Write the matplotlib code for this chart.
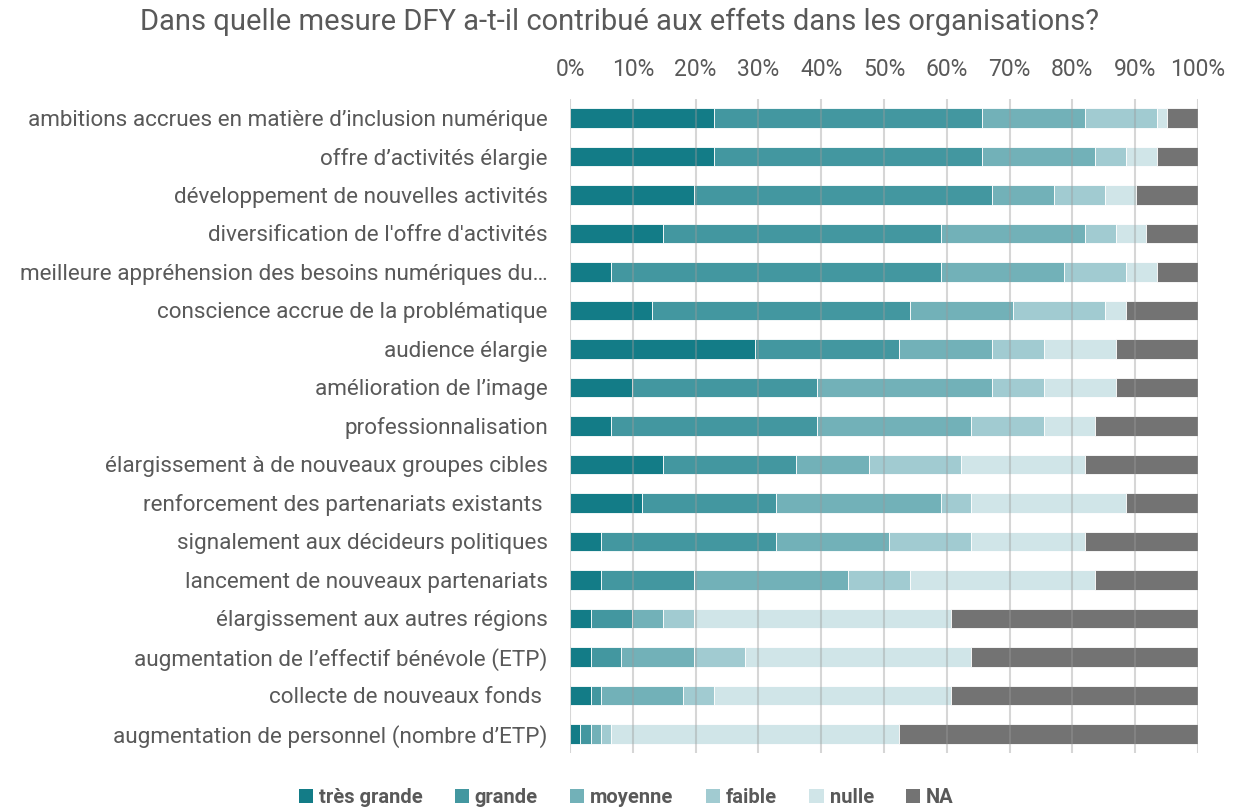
import matplotlib
matplotlib.use("Agg")
import matplotlib.pyplot as plt
from matplotlib.patches import Patch
import numpy as np

plt.rcParams["font.family"] = ["Roboto", "DejaVu Sans"]

categories = [
    "ambitions accrues en matière d’inclusion numérique",
    "offre d’activités élargie",
    "développement de nouvelles activités",
    "diversification de l'offre d'activités",
    "meilleure appréhension des besoins numériques du…",
    "conscience accrue de la problématique",
    "audience élargie",
    "amélioration de l’image",
    "professionnalisation",
    "élargissement à de nouveaux groupes cibles",
    "renforcement des partenariats existants ",
    "signalement aux décideurs politiques",
    "lancement de nouveaux partenariats",
    "élargissement aux autres régions",
    "augmentation de l’effectif bénévole (ETP)",
    "collecte de nouveaux fonds ",
    "augmentation de personnel (nombre d’ETP)",
]

series_names = ["très grande", "grande", "moyenne", "faible", "nulle", "NA"]

# response counts per category (61 respondents)
tres_grande = [14, 14, 12, 9, 4, 8, 18, 6, 4, 9, 7, 3, 3, 2, 2, 2, 1]
grande = [26, 26, 29, 27, 32, 25, 14, 18, 20, 13, 13, 17, 9, 4, 3, 1, 1]
moyenne = [10, 11, 6, 14, 12, 10, 9, 17, 15, 7, 16, 11, 15, 3, 7, 8, 1]
faible = [7, 3, 5, 3, 6, 9, 5, 5, 7, 9, 3, 8, 6, 3, 5, 3, 1]
nulle = [1, 3, 3, 3, 3, 2, 7, 7, 5, 12, 15, 11, 18, 25, 22, 23, 28]
na = [3, 4, 6, 5, 4, 7, 8, 8, 10, 11, 7, 11, 10, 24, 22, 24, 29]

colors = ["#137c87", "#4397a0", "#72b1b8", "#a1cbd1", "#d0e5e8", "#737373"]
text_color = "#595959"

data = np.array([tres_grande, grande, moyenne, faible, nulle, na], dtype=float)
pct = data / data.sum(axis=0) * 100

fig = plt.figure(figsize=(12.4, 8.09), dpi=100)
ax = fig.add_axes([0.4597, 0.069, 0.5064, 0.809])

y = np.arange(len(categories))
left = np.zeros(len(categories))
for i, name in enumerate(series_names):
    ax.barh(y, pct[i], left=left, height=0.5, color=colors[i],
            edgecolor="white", linewidth=0.6, label=name, zorder=2)
    left += pct[i]

ax.set_xlim(0, 100)
ax.set_ylim(len(categories) - 0.5, -0.5)
ax.set_yticks(y)
ax.set_yticklabels(categories, fontsize=16.2, color=text_color)
ax.set_xticks(np.arange(0, 101, 10))
ax.set_xticklabels([f"{v}%" for v in range(0, 101, 10)], fontsize=16.5,
                   color=text_color)
ax.xaxis.tick_top()
ax.tick_params(axis="y", length=0, pad=16)
ax.tick_params(axis="x", length=0, pad=13)
ax.grid(axis="x", color="#9a9a9a", alpha=0.4, linewidth=1.5, zorder=3)
ax.set_axisbelow(False)
for s in ax.spines.values():
    s.set_visible(False)

fig.suptitle("Dans quelle mesure DFY a-t-il contribué aux effets dans les organisations?",
             x=0.5, y=0.99, fontsize=21, color=text_color)

handles = [Patch(facecolor=c, label=n) for c, n in zip(colors, series_names)]
fig.legend(handles=handles, loc="lower center", bbox_to_anchor=(0.505, -0.02),
           ncol=6, frameon=False, handlelength=0.7, handleheight=0.7,
           handletextpad=0.3, columnspacing=1.6,
           prop={"size": 14.5, "weight": "bold"}, labelcolor=text_color)

fig.savefig("out.png", dpi=100)
